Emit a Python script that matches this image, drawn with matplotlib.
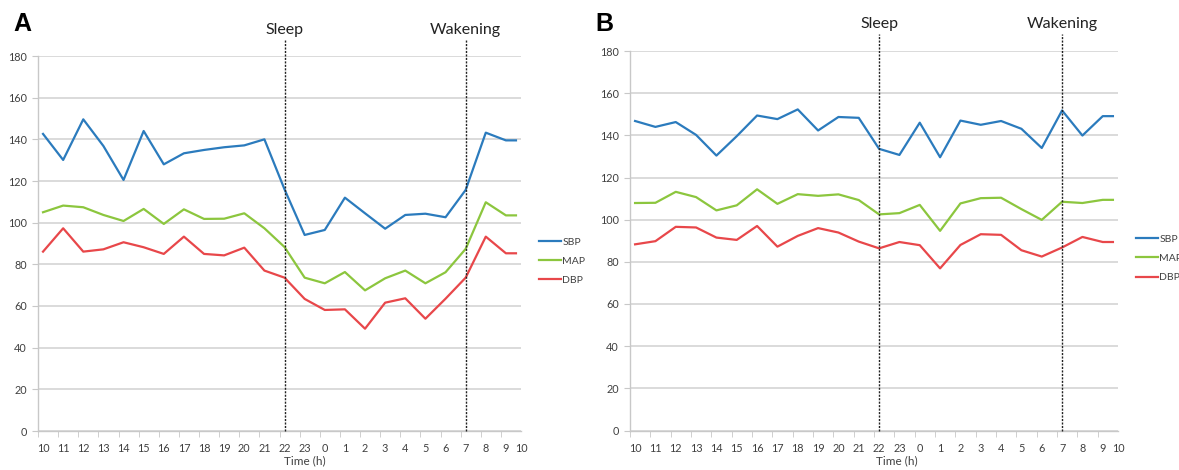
import matplotlib
matplotlib.use("Agg")
import matplotlib.pyplot as plt
import numpy as np

# hour labels along the x axis (10:00 to 10:00 next day)
hours = ["10", "11", "12", "13", "14", "15", "16", "17", "18", "19", "20", "21", "22",
         "23", "0", "1", "2", "3", "4", "5", "6", "7", "8", "9", "10"]
# sample positions (hours after 10:00); the last sample sits half way to 10:00
t = [0, 1, 2, 3, 4, 5, 6, 7, 8, 9, 10, 11, 12, 13, 14, 15, 16, 17, 18, 19, 20, 21, 22, 23, 23.5]

# panel A
sbp_a = [142.6, 130.1, 149.6, 136.8, 120.5, 144.0, 128.0, 133.3, 134.9, 136.2, 137.1, 140.0, 116.0,
         94.1, 96.5, 112.0, 104.5, 97.1, 103.7, 104.3, 102.6, 115.7, 143.2, 139.5, 139.5]
map_a = [105.0, 108.2, 107.4, 103.7, 100.8, 106.6, 99.4, 106.4, 101.8, 101.9, 104.5, 97.3, 88.3,
         73.6, 70.9, 76.3, 67.5, 73.3, 77.0, 70.9, 76.2, 87.4, 109.8, 103.5, 103.5]
dbp_a = [86.1, 97.3, 86.1, 87.2, 90.6, 88.2, 85.0, 93.3, 85.0, 84.3, 88.0, 77.0, 73.6,
         63.4, 58.1, 58.4, 49.1, 61.6, 63.7, 53.9, 63.5, 73.6, 93.3, 85.3, 85.3]

# panel B
sbp_b = [146.8, 144.0, 146.3, 140.2, 130.4, 139.6, 149.4, 147.7, 152.3, 142.3, 148.7, 148.3, 133.6,
         130.7, 146.0, 129.6, 147.0, 145.0, 146.8, 143.1, 134.0, 151.8, 139.9, 149.1, 149.1]
map_b = [107.9, 108.0, 113.2, 110.7, 104.4, 106.8, 114.4, 107.5, 112.1, 111.3, 112.0, 109.3, 102.5,
         103.1, 107.0, 94.7, 107.7, 110.2, 110.4, 105.0, 99.9, 108.5, 107.9, 109.4, 109.4]
dbp_b = [88.3, 89.8, 96.6, 96.3, 91.5, 90.4, 97.0, 87.2, 92.3, 96.0, 93.9, 89.6, 86.4,
         89.4, 87.9, 76.9, 88.0, 93.1, 92.8, 85.5, 82.5, 86.8, 91.8, 89.4, 89.4]

sleep_at = 12
wake_at = 21

blue = "#2b7bbd"
green = "#8cc63e"
red = "#e8474a"
grey_txt = "#404040"

fig = plt.figure(figsize=(11.79, 4.70), dpi=100)


def panel(ax, sbp, mapv, dbp, letter, lab_x, letter_x):
    ax.plot(t, sbp, color=blue, lw=1.6, label="SBP")
    ax.plot(t, mapv, color=green, lw=1.6, label="MAP")
    ax.plot(t, dbp, color=red, lw=1.6, label="DBP")
    ax.set_xlim(-0.25, 23.75)
    ax.set_ylim(0, 180)
    ax.set_yticks(range(0, 181, 20))
    ax.yaxis.grid(True, color="#d4d4d4", lw=1.2)
    ax.set_axisbelow(True)
    for s in ["top", "right"]:
        ax.spines[s].set_visible(False)
    for s in ["left", "bottom"]:
        ax.spines[s].set_color("#c8c8c8")
        ax.spines[s].set_linewidth(1.0)
    pos = list(range(24)) + [23.75]
    ax.set_xticks(pos)
    ax.set_xticklabels(hours, fontsize=7.8, color=grey_txt, family="Lato")
    ax.tick_params(axis="x", length=0, pad=9)
    ax.set_xticks(np.arange(-0.25, 23.8, 1.0), minor=True)
    ax.tick_params(axis="x", which="minor", length=4, color="#c8c8c8")
    ax.tick_params(axis="y", length=4, color="#c8c8c8", labelsize=7.8,
                   labelcolor=grey_txt, pad=4)
    for lbl in ax.get_yticklabels():
        lbl.set_family("Lato")
    for x in (sleep_at, wake_at):
        ax.plot([x, x], [0, 188], color="#222222", lw=1.0, ls=(0, (1.5, 1.0)),
                clip_on=False, zorder=5)
    ax.text(sleep_at, 190.7, "Sleep", ha="center", va="baseline", fontsize=11.5,
            family="Lato", color="#222222")
    ax.text(wake_at, 190.7, "Wakening", ha="center", va="baseline", fontsize=11.5,
            family="Lato", color="#222222")
    ax.set_xlabel("Time (h)", fontsize=8.5, color=grey_txt, family="Lato")
    ax.xaxis.set_label_coords(lab_x, -0.066)
    ax.legend(loc="upper left", bbox_to_anchor=(1.027, 0.53), frameon=False,
              borderpad=0, handlelength=2.1, handletextpad=0.1, labelspacing=0.95,
              prop={"family": "Lato", "size": 7.5}, labelcolor=grey_txt)
    fig.text(letter_x, 0.935, letter, fontsize=18, fontweight="bold",
             family="Liberation Sans", va="baseline")


ax_a = fig.add_axes([38 / 1179, 39 / 470, 483 / 1179, 375 / 470])
panel(ax_a, sbp_a, map_a, dbp_a, "A", 0.552, 13 / 1179)
ax_b = fig.add_axes([630 / 1179, 39.5 / 470, 488 / 1179, 379.5 / 470])
panel(ax_b, sbp_b, map_b, dbp_b, "B", 0.547, 595 / 1179)

fig.savefig("out.png", dpi=100)
